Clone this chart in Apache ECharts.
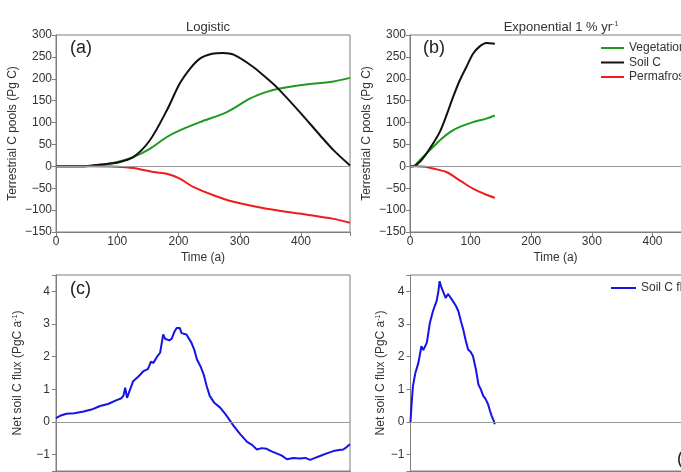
<!DOCTYPE html>
<html>
<head>
<meta charset="utf-8">
<script src="https://cdn.jsdelivr.net/npm/echarts@6/dist/echarts.min.js"></script>
<style>
  html, body { margin: 0; padding: 0; background: #fff; overflow: hidden; }
  #chart { width: 681px; height: 472px; }
</style>
</head>
<body>
<div id="chart"></div>
<script>
// (a) logistic scenario, carbon pools (Pg C)
var logisticVeg = [[0,0],[40,0],[80,5],[100,10],[126,21],[153,40],[181,67],[202,82],[235,101],[279,124],[317,155],[344,170],[363,177],[398,185],[453,194],[480,202]];
var logisticSoil = [[0,0],[40,0],[60,2],[80,5],[99,8],[126,21],[153,59],[181,128],[202,189],[220,225],[235,246],[255,257],[273,259],[290,255],[322,227],[345,200],[363,177],[398,124],[431,71],[453,37],[480,2]];
var logisticPerm = [[0,0],[60,0],[99,-1],[126,-4],[159,-13],[181,-17],[202,-28],[224,-47],[257,-66],[290,-81],[344,-97],[398,-108],[453,-120],[480,-129]];

// (b) exponential 1 % yr-1 scenario
var expVeg = [[0,0],[5,0],[16,14],[27,29],[38,44],[49,59],[66,78],[82,90],[104,101],[126,109],[140,116]];
var expSoil = [[0,0],[5,0],[16,10],[27,29],[38,52],[49,78],[60,116],[71,158],[82,196],[93,227],[104,257],[115,274],[126,282],[140,280]];
var expPerm = [[0,0],[10,0],[25,-1],[38,-5],[60,-13],[82,-32],[104,-51],[126,-65],[140,-72]];

// (c) net soil C flux, logistic (PgC a-1)
var fluxLogistic = [[0,0.12],[8,0.2],[17,0.25],[30,0.27],[45,0.32],[58,0.38],[72,0.49],[85,0.55],[99,0.67],[106,0.72],[110,0.8],[113,1.05],[116,0.74],[121,1.0],[126,1.25],[135,1.4],[143,1.56],[150,1.62],[155,1.85],[159,1.81],[165,2.0],[170,2.12],[175,2.68],[178,2.55],[181,2.53],[185,2.5],[189,2.55],[193,2.75],[197,2.88],[202,2.88],[205,2.72],[208,2.73],[213,2.68],[221,2.43],[226,2.2],[230,1.92],[236,1.7],[241,1.46],[246,1.1],[251,0.8],[258,0.6],[268,0.44],[274,0.3],[279,0.18],[290,-0.12],[301,-0.38],[312,-0.61],[320,-0.7],[328,-0.84],[336,-0.8],[344,-0.82],[352,-0.9],[360,-0.96],[368,-1.02],[377,-1.14],[387,-1.1],[398,-1.12],[407,-1.1],[415,-1.16],[423,-1.1],[431,-1.04],[442,-0.96],[453,-0.89],[462,-0.86],[469,-0.84],[475,-0.76],[480,-0.68]];

// (d) net soil C flux, exponential
var fluxExp = [[0,0],[2,0.6],[4,1.1],[8,1.5],[13,1.81],[18,2.32],[21,2.2],[24,2.24],[27,2.43],[32,3.04],[37,3.39],[40,3.55],[43,3.7],[46,4.0],[48,4.31],[51,4.12],[54,4.06],[58,3.8],[62,3.92],[65,3.98],[70,3.7],[75,3.55],[79,3.39],[83,3.1],[87,2.83],[91,2.5],[95,2.22],[99,2.15],[103,2.02],[108,1.6],[112,1.15],[116,1.0],[120,0.8],[124,0.7],[128,0.54],[131,0.35],[134,0.18],[137,0.05],[139,-0.07]];

var xTicks = [0, 100, 200, 300, 400];
var fluxTicks = [-1, 0, 1, 2, 3, 4];

var green = '#1f9a1f', black = '#111111', red = '#ee1c1c', blue = '#1414e6';
var axisGrey = '#7f7f7f';
var labelFont = 'Liberation Sans';

function minusFmt(v) {
    return String(v).replace('-', '\u2212');
}

function makeX(idx) {
    return {
        type: 'value', gridIndex: idx, min: 0, max: 480, interval: 100,
        axisLine: { onZero: false, lineStyle: { color: axisGrey } },
        axisTick: { inside: false, length: 4, lineStyle: { color: axisGrey } },
        axisLabel: {
            color: '#333', fontSize: 12, fontFamily: labelFont, margin: 4,
            formatter: function(v) { return xTicks.indexOf(v) >= 0 ? v : ''; }
        },
        splitLine: { show: false },
        name: idx < 2 ? 'Time (a)' : '', nameLocation: 'middle', nameGap: 20,
        nameTextStyle: { color: '#333', fontSize: 12, fontFamily: labelFont }
    };
}

function makePoolY(idx) {
    return {
        type: 'value', gridIndex: idx, min: -150, max: 300, interval: 50,
        axisLine: { onZero: false, lineStyle: { color: axisGrey } },
        axisTick: { length: 4, lineStyle: { color: axisGrey } },
        axisLabel: { color: '#333', fontSize: 12, fontFamily: labelFont, margin: 4, formatter: minusFmt },
        splitLine: { show: false },
        name: 'Terrestrial C pools (Pg C)', nameLocation: 'middle', nameGap: 37, nameRotate: 90,
        nameTextStyle: { color: '#333', fontSize: 12, fontFamily: labelFont }
    };
}

function makeFluxY(idx, gap) {
    return {
        type: 'value', gridIndex: idx, min: -1.5, max: 4.5, splitNumber: 6,
        axisLine: { onZero: false, lineStyle: { color: axisGrey } },
        axisTick: { length: 4, lineStyle: { color: axisGrey } },
        axisLabel: {
            color: '#333', fontSize: 12, fontFamily: labelFont, margin: 6,
            formatter: function(v) { return fluxTicks.indexOf(v) >= 0 ? minusFmt(v) : ''; }
        },
        splitLine: { show: false },
        name: 'Net soil C flux (PgC a{sup|-1})', nameLocation: 'middle', nameGap: gap, nameRotate: 90,
        nameTextStyle: {
            color: '#333', fontSize: 12, fontFamily: labelFont,
            rich: { sup: { fontSize: 7, verticalAlign: 'top', color: '#333', fontFamily: labelFont } }
        }
    };
}

function line(name, data, color, idx, zero, smooth) {
    var s = {
        name: name, type: 'line', data: data, xAxisIndex: idx, yAxisIndex: idx,
        showSymbol: false, smooth: smooth || false, animation: false,
        lineStyle: { color: color, width: 2 }, itemStyle: { color: color }, z: 3
    };
    if (zero) {
        s.markLine = {
            silent: true, symbol: 'none', animation: false,
            label: { show: false },
            lineStyle: { color: '#9a9a9a', width: 1, type: 'solid' },
            data: [{ yAxis: 0 }]
        };
    }
    return s;
}

var chart = echarts.init(document.getElementById('chart'), null, { renderer: 'canvas' });

var gridBox = { show: true, borderColor: axisGrey, borderWidth: 1, backgroundColor: 'transparent',
                containLabel: false, outerBoundsMode: 'none' };
var panelLabel = { fontSize: 18, fontWeight: 'normal', color: '#222', fontFamily: labelFont };

chart.setOption({
    backgroundColor: '#fff',
    animation: false,
    title: [
        { text: 'Logistic', left: 203, top: 16, textAlign: 'center',
          textStyle: { fontSize: 13, fontWeight: 'normal', color: '#333', fontFamily: labelFont } },
        { text: 'Exponential 1 % yr{sup|-1}', left: 556, top: 16, textAlign: 'center',
          textStyle: { fontSize: 13, fontWeight: 'normal', color: '#333', fontFamily: labelFont,
                       rich: { sup: { fontSize: 7, verticalAlign: 'top', color: '#333', fontFamily: labelFont } } } },
        { text: '(a)', left: 65, top: 34, textStyle: panelLabel },
        { text: '(b)', left: 418, top: 34, textStyle: panelLabel },
        { text: '(c)', left: 65, top: 275, textStyle: panelLabel },
        { text: '(d)', left: 672, top: 445, textStyle: panelLabel }
    ],
    legend: [
        { data: ['Vegetation', 'Soil C', 'Permafrost'], left: 601, top: 42, orient: 'vertical',
          padding: 0, itemWidth: 23, itemHeight: 2, itemGap: 2.5, icon: 'rect',
          textStyle: { fontSize: 12, color: '#333', fontFamily: labelFont } },
        { data: ['Soil C flux'], left: 611, top: 282, orient: 'vertical', padding: 0,
          itemWidth: 25, itemHeight: 2, icon: 'rect',
          textStyle: { fontSize: 12, color: '#333', fontFamily: labelFont } }
    ],
    grid: [
        Object.assign({ left: 56, top: 35, width: 294, height: 197 }, gridBox),
        Object.assign({ left: 410, top: 35, width: 291, height: 197 }, gridBox),
        Object.assign({ left: 56, top: 275, width: 294, height: 196 }, gridBox),
        Object.assign({ left: 410.5, top: 275, width: 291, height: 196 }, gridBox)
    ],
    xAxis: [makeX(0), makeX(1), makeX(2), makeX(3)],
    yAxis: [makePoolY(0), makePoolY(1), makeFluxY(2, 32), makeFluxY(3, 23)],
    series: [
        line('Vegetation', logisticVeg, green, 0, true, 0.3),
        line('Soil C', logisticSoil, black, 0, false, 0.3),
        line('Permafrost', logisticPerm, red, 0, false, 0.3),
        line('Vegetation', expVeg, green, 1, true, 0.3),
        line('Soil C', expSoil, black, 1, false, 0.3),
        line('Permafrost', expPerm, red, 1, false, 0.3),
        line('Soil C flux', fluxLogistic, blue, 2, true),
        line('Soil C flux', fluxExp, blue, 3, true)
    ]
});
</script>
</body>
</html>
